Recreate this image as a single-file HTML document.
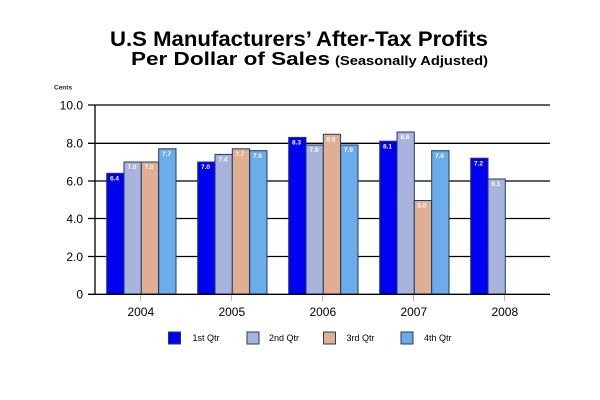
<!DOCTYPE html>
<html><head><meta charset="utf-8"><style>
html,body{margin:0;padding:0;background:#fff;}
svg{display:block;}
text{font-family:"Liberation Sans",Arial,sans-serif;}
</style></head><body>
<svg width="600" height="400" viewBox="0 0 600 400" xmlns="http://www.w3.org/2000/svg">
<rect width="600" height="400" fill="#fff"/>
<text x="110" y="46" font-size="21" font-weight="bold" textLength="378" lengthAdjust="spacingAndGlyphs">U.S Manufacturers’ After-Tax Profits</text>
<text x="131" y="65" font-size="18" font-weight="bold" textLength="199" lengthAdjust="spacingAndGlyphs">Per Dollar of Sales</text>
<text x="335" y="65" font-size="12.5" font-weight="bold" textLength="153" lengthAdjust="spacingAndGlyphs">(Seasonally Adjusted)</text>
<text x="54" y="89.5" font-size="6.5" font-weight="bold" fill="#222">Cents</text>
<g stroke="#000" stroke-width="1.3">
<line x1="88" y1="105" x2="550" y2="105"/>
<line x1="88" y1="143.3" x2="550" y2="143.3"/>
<line x1="88" y1="181" x2="550" y2="181"/>
<line x1="88" y1="218.5" x2="550" y2="218.5"/>
<line x1="88" y1="256.5" x2="550" y2="256.5"/>
<line x1="95" y1="105" x2="95" y2="294.3"/>
</g>
<g font-size="12" text-anchor="end" fill="#000">
<text x="83" y="109.5">10.0</text>
<text x="83" y="147.5">8.0</text>
<text x="83" y="185.3">6.0</text>
<text x="83" y="222.8">4.0</text>
<text x="83" y="260.8">2.0</text>
<text x="83" y="298.6">0</text>
</g>
<g stroke="#1f3a66" stroke-width="1">
<rect x="106.7" y="173.3" width="17.3" height="121" fill="#0000f2"/>
<rect x="124" y="162" width="17.3" height="132.3" fill="#a8b4dc"/>
<rect x="141.3" y="162" width="17.3" height="132.3" fill="#e0ae90"/>
<rect x="158.7" y="148.8" width="17.3" height="145.5" fill="#6cacea"/>
<rect x="197.7" y="162" width="17.3" height="132.3" fill="#0000f2"/>
<rect x="215" y="154.4" width="17.3" height="139.9" fill="#a8b4dc"/>
<rect x="232.3" y="148.8" width="17.3" height="145.5" fill="#e0ae90"/>
<rect x="249.7" y="150.7" width="17.3" height="143.6" fill="#6cacea"/>
<rect x="288.7" y="137.4" width="17.3" height="156.9" fill="#0000f2"/>
<rect x="306" y="145" width="17.3" height="149.3" fill="#a8b4dc"/>
<rect x="323.3" y="134.3" width="17.3" height="160" fill="#e0ae90"/>
<rect x="340.7" y="145" width="17.3" height="149.3" fill="#6cacea"/>
<rect x="379.7" y="141.2" width="17.3" height="153.1" fill="#0000f2"/>
<rect x="397" y="132" width="17.3" height="162.3" fill="#a8b4dc"/>
<rect x="414.3" y="200.5" width="17.3" height="93.8" fill="#e0ae90"/>
<rect x="431.7" y="150.7" width="17.3" height="143.6" fill="#6cacea"/>
<rect x="470.7" y="158.2" width="17.3" height="136.1" fill="#0000f2"/>
<rect x="488" y="179" width="17.3" height="115.3" fill="#a8b4dc"/>
</g>
<line x1="88" y1="294.3" x2="550" y2="294.3" stroke="#000" stroke-width="1.3"/>
<g stroke="#e0b090" stroke-width="1">
<line x1="140.5" y1="295" x2="140.5" y2="301"/>
<line x1="231.5" y1="295" x2="231.5" y2="301"/>
<line x1="322.5" y1="295" x2="322.5" y2="301"/>
<line x1="413.5" y1="295" x2="413.5" y2="301"/>
<line x1="504.5" y1="295" x2="504.5" y2="301"/>
</g>
<g font-size="6.5" font-weight="bold" fill="#fff">
<text x="110" y="180.5">6.4</text>
<text x="127.5" y="169">7.0</text>
<text x="144.5" y="169">7.0</text>
<text x="162" y="156">7.7</text>
<text x="201" y="169">7.0</text>
<text x="218.5" y="161.5">7.4</text>
<text x="235.5" y="156">7.7</text>
<text x="253" y="158">7.6</text>
<text x="292" y="144.5">8.3</text>
<text x="309.5" y="152">7.9</text>
<text x="326.5" y="141.5">8.5</text>
<text x="344" y="152">7.9</text>
<text x="383" y="148.5">8.1</text>
<text x="400.5" y="139">8.6</text>
<text x="417.5" y="207.5">5.0</text>
<text x="435" y="158">7.6</text>
<text x="474" y="165.5">7.2</text>
<text x="491.5" y="186">6.1</text>
</g>
<g font-size="12" text-anchor="middle" fill="#000">
<text x="140.8" y="316">2004</text>
<text x="231.8" y="316">2005</text>
<text x="322.8" y="316">2006</text>
<text x="413.8" y="316">2007</text>
<text x="504.8" y="316">2008</text>
</g>
<g stroke="#1f3a66" stroke-width="1">
<rect x="168.5" y="332" width="12" height="12" fill="#0000f2"/>
<rect x="247" y="332" width="12" height="12" fill="#a8b4dc"/>
<rect x="323.5" y="332" width="12" height="12" fill="#e0ae90"/>
<rect x="401" y="332" width="12" height="12" fill="#6cacea"/>
</g>
<g font-size="9" fill="#000">
<text x="192.5" y="341">1st Qtr</text>
<text x="269" y="341">2nd Qtr</text>
<text x="346.5" y="341">3rd Qtr</text>
<text x="424" y="341">4th Qtr</text>
</g>
</svg>
</body></html>
